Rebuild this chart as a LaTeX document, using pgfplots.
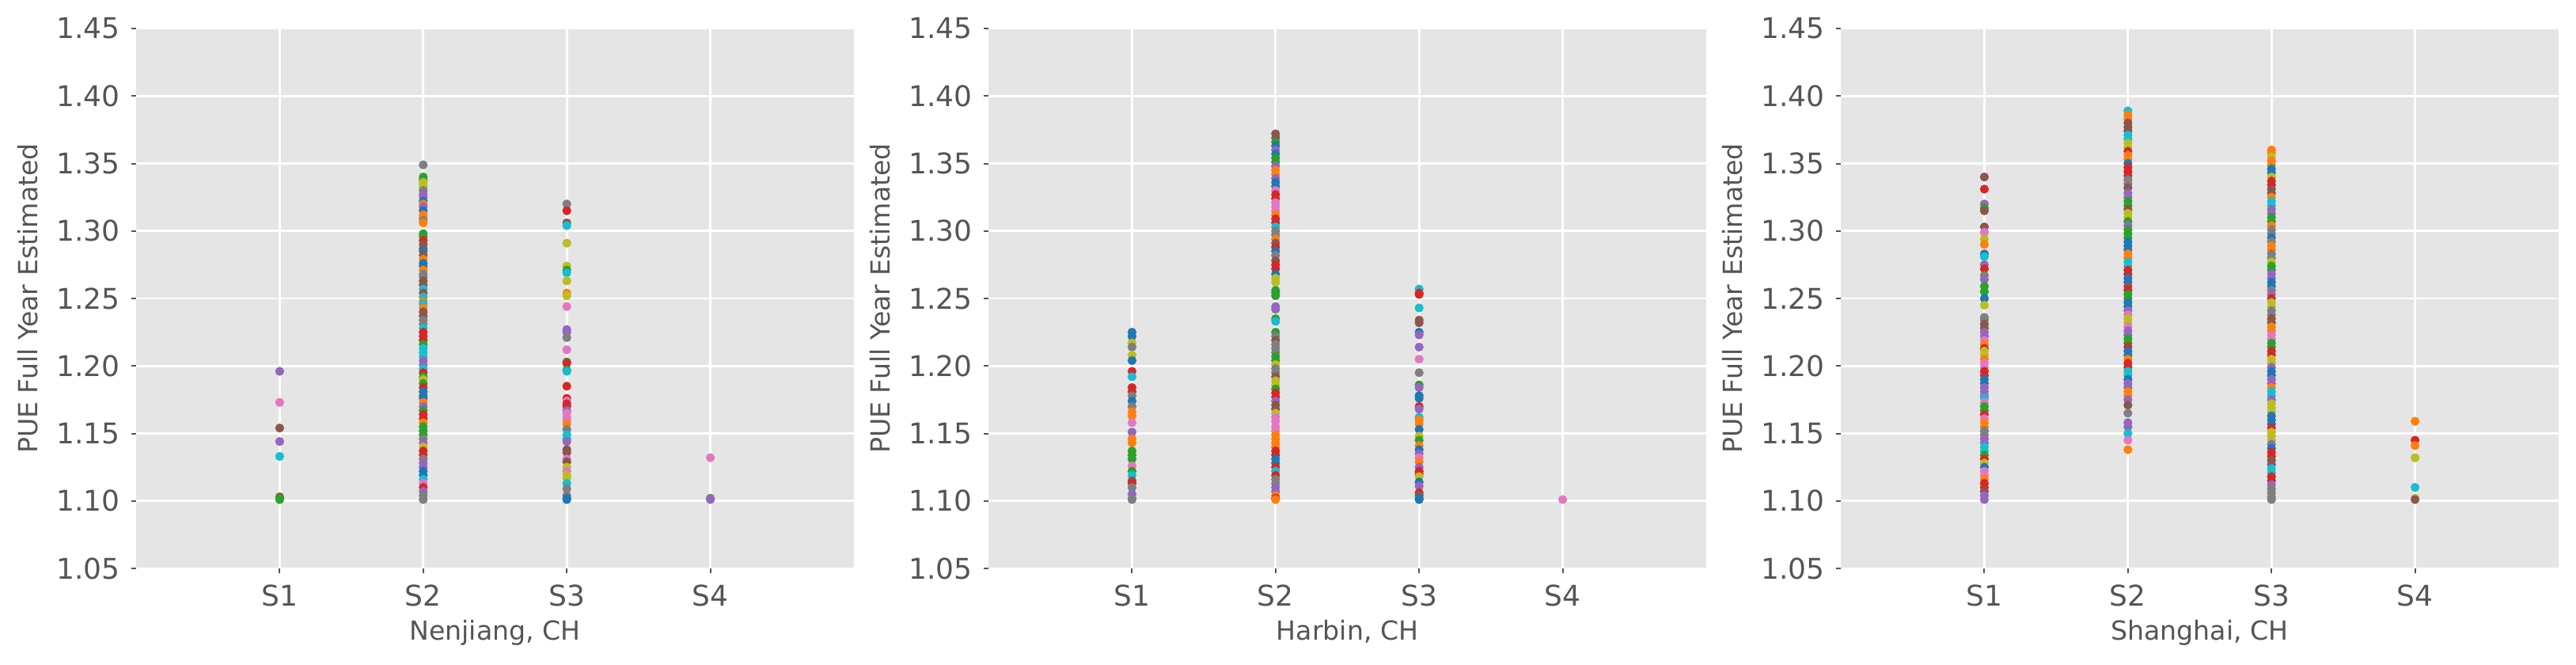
\documentclass[border=0pt]{standalone}
\usepackage{pgfplots}
\pgfplotsset{compat=1.18}
\usepackage{pgfplotstable}
\usepackage{fontspec}
\setmainfont{DejaVu Sans}
\definecolor{bggray}{HTML}{E5E5E5}
\definecolor{txtgray}{HTML}{555555}
\definecolor{ca}{HTML}{1F77B4}
\definecolor{cb}{HTML}{FF7F0E}
\definecolor{cc}{HTML}{2CA02C}
\definecolor{cd}{HTML}{D62728}
\definecolor{ce}{HTML}{9467BD}
\definecolor{cf}{HTML}{8C564B}
\definecolor{cg}{HTML}{E377C2}
\definecolor{ch}{HTML}{7F7F7F}
\definecolor{ci}{HTML}{BCBD22}
\definecolor{cj}{HTML}{17BECF}

\pgfplotstableread{
x y c
1 1.196 e
1 1.173 g
1 1.154 f
1 1.144 e
1 1.133 j
1 1.103 f
1 1.102 c
1 1.101 c
2 1.349 h
2 1.340 c
2 1.338 c
2 1.336 i
2 1.334 i
2 1.332 i
2 1.330 h
2 1.327 e
2 1.325 e
2 1.322 a
2 1.320 b
2 1.318 e
2 1.315 a
2 1.312 b
2 1.310 b
2 1.308 h
2 1.306 b
2 1.298 c
2 1.296 c
2 1.293 d
2 1.290 f
2 1.287 f
2 1.285 a
2 1.282 f
2 1.279 b
2 1.276 a
2 1.274 a
2 1.271 b
2 1.268 h
2 1.266 h
2 1.263 f
2 1.260 f
2 1.257 j
2 1.254 f
2 1.251 j
2 1.248 b
2 1.246 j
2 1.243 b
2 1.240 f
2 1.237 f
2 1.234 h
2 1.231 h
2 1.228 j
2 1.225 d
2 1.222 d
2 1.219 d
2 1.216 c
2 1.213 j
2 1.210 j
2 1.207 j
2 1.204 e
2 1.201 e
2 1.198 j
2 1.195 d
2 1.192 c
2 1.190 i
2 1.187 c
2 1.184 d
2 1.181 a
2 1.178 a
2 1.176 a
2 1.173 b
2 1.170 e
2 1.167 c
2 1.164 d
2 1.161 d
2 1.158 b
2 1.155 c
2 1.152 c
2 1.149 c
2 1.146 h
2 1.143 e
2 1.140 i
2 1.137 d
2 1.134 d
2 1.131 h
2 1.128 e
2 1.125 e
2 1.122 a
2 1.119 a
2 1.116 j
2 1.113 g
2 1.110 d
2 1.107 e
2 1.104 h
2 1.101 h
3 1.320 h
3 1.315 d
3 1.306 f
3 1.304 j
3 1.291 i
3 1.274 i
3 1.271 c
3 1.269 j
3 1.263 i
3 1.254 b
3 1.252 i
3 1.244 g
3 1.227 e
3 1.225 e
3 1.221 h
3 1.212 g
3 1.203 c
3 1.202 d
3 1.197 c
3 1.196 j
3 1.185 d
3 1.176 d
3 1.174 g
3 1.172 d
3 1.170 d
3 1.167 e
3 1.165 g
3 1.162 g
3 1.160 g
3 1.157 b
3 1.153 h
3 1.149 j
3 1.146 j
3 1.144 e
3 1.138 f
3 1.136 f
3 1.131 g
3 1.129 f
3 1.125 i
3 1.122 g
3 1.119 i
3 1.117 i
3 1.113 j
3 1.109 h
3 1.104 h
3 1.102 a
3 1.101 a
4 1.132 g
4 1.102 h
4 1.101 e
}\nenjiang

\pgfplotstableread{
x y c
1 1.225 a
1 1.222 a
1 1.217 i
1 1.214 h
1 1.208 i
1 1.204 a
1 1.196 d
1 1.192 j
1 1.184 d
1 1.181 d
1 1.178 h
1 1.174 a
1 1.170 h
1 1.166 b
1 1.163 b
1 1.158 g
1 1.151 e
1 1.146 b
1 1.143 b
1 1.137 c
1 1.134 c
1 1.131 c
1 1.126 g
1 1.122 c
1 1.119 j
1 1.115 f
1 1.113 d
1 1.110 h
1 1.105 e
1 1.102 e
1 1.101 h
2 1.372 f
2 1.369 f
2 1.366 c
2 1.363 a
2 1.360 e
2 1.357 a
2 1.354 c
2 1.351 c
2 1.348 e
2 1.345 b
2 1.342 b
2 1.339 e
2 1.336 a
2 1.333 a
2 1.330 g
2 1.327 d
2 1.324 d
2 1.321 g
2 1.318 g
2 1.315 g
2 1.312 b
2 1.309 d
2 1.306 d
2 1.303 j
2 1.300 h
2 1.297 h
2 1.294 b
2 1.291 f
2 1.288 d
2 1.285 a
2 1.282 h
2 1.278 f
2 1.275 d
2 1.272 d
2 1.268 a
2 1.265 i
2 1.262 i
2 1.256 c
2 1.254 c
2 1.252 c
2 1.244 e
2 1.242 e
2 1.235 c
2 1.233 j
2 1.225 c
2 1.222 h
2 1.219 f
2 1.216 h
2 1.213 h
2 1.210 h
2 1.207 c
2 1.204 c
2 1.201 i
2 1.198 h
2 1.195 h
2 1.192 f
2 1.189 i
2 1.186 i
2 1.183 c
2 1.180 d
2 1.177 d
2 1.174 e
2 1.171 f
2 1.168 f
2 1.165 i
2 1.162 g
2 1.159 g
2 1.155 g
2 1.152 g
2 1.149 b
2 1.146 b
2 1.143 b
2 1.140 b
2 1.137 d
2 1.134 d
2 1.131 a
2 1.128 a
2 1.125 d
2 1.122 j
2 1.119 d
2 1.116 h
2 1.113 h
2 1.110 e
2 1.107 e
2 1.104 b
2 1.102 d
2 1.101 b
3 1.257 j
3 1.254 d
3 1.253 d
3 1.243 j
3 1.234 f
3 1.232 f
3 1.225 a
3 1.223 e
3 1.214 e
3 1.205 g
3 1.195 h
3 1.186 c
3 1.184 e
3 1.178 a
3 1.176 a
3 1.170 d
3 1.168 e
3 1.162 j
3 1.160 b
3 1.157 b
3 1.153 a
3 1.148 i
3 1.145 c
3 1.141 b
3 1.138 a
3 1.135 e
3 1.132 g
3 1.129 b
3 1.125 e
3 1.122 d
3 1.120 d
3 1.118 i
3 1.114 a
3 1.111 e
3 1.106 d
3 1.104 f
3 1.102 a
3 1.101 a
4 1.101 g
}\harbin

\pgfplotstableread{
x y c
1 1.340 f
1 1.331 d
1 1.320 e
1 1.317 c
1 1.315 f
1 1.303 f
1 1.299 g
1 1.294 i
1 1.290 b
1 1.283 a
1 1.281 j
1 1.275 e
1 1.272 d
1 1.267 h
1 1.264 e
1 1.259 c
1 1.255 c
1 1.250 a
1 1.245 i
1 1.236 h
1 1.234 h
1 1.231 f
1 1.228 f
1 1.225 e
1 1.222 e
1 1.219 g
1 1.216 b
1 1.213 d
1 1.211 i
1 1.208 i
1 1.205 b
1 1.202 g
1 1.199 g
1 1.196 d
1 1.193 d
1 1.190 a
1 1.187 a
1 1.184 e
1 1.181 e
1 1.178 e
1 1.176 j
1 1.173 g
1 1.170 c
1 1.167 c
1 1.164 d
1 1.161 g
1 1.158 b
1 1.155 b
1 1.152 h
1 1.149 h
1 1.146 e
1 1.143 e
1 1.140 j
1 1.137 j
1 1.134 c
1 1.131 d
1 1.128 i
1 1.125 a
1 1.122 g
1 1.119 g
1 1.116 b
1 1.113 d
1 1.110 d
1 1.107 f
1 1.104 e
1 1.101 e
2 1.389 j
2 1.386 b
2 1.383 b
2 1.380 f
2 1.377 f
2 1.374 f
2 1.371 j
2 1.368 j
2 1.365 i
2 1.362 i
2 1.359 d
2 1.356 b
2 1.353 b
2 1.350 a
2 1.347 d
2 1.344 d
2 1.341 d
2 1.338 h
2 1.335 h
2 1.332 f
2 1.328 e
2 1.325 e
2 1.322 c
2 1.319 c
2 1.316 f
2 1.313 i
2 1.310 i
2 1.307 c
2 1.304 e
2 1.301 c
2 1.298 c
2 1.295 c
2 1.292 a
2 1.289 a
2 1.286 a
2 1.283 b
2 1.280 b
2 1.277 j
2 1.274 j
2 1.271 d
2 1.268 d
2 1.265 a
2 1.262 a
2 1.259 f
2 1.256 d
2 1.253 c
2 1.250 c
2 1.247 a
2 1.244 a
2 1.241 e
2 1.238 g
2 1.235 i
2 1.232 i
2 1.229 g
2 1.226 e
2 1.223 e
2 1.220 c
2 1.217 c
2 1.214 d
2 1.211 a
2 1.208 a
2 1.205 b
2 1.202 d
2 1.199 d
2 1.196 j
2 1.193 j
2 1.190 a
2 1.187 e
2 1.184 e
2 1.181 b
2 1.178 b
2 1.175 e
2 1.171 f
2 1.165 h
2 1.158 e
2 1.155 e
2 1.150 j
2 1.145 g
2 1.138 b
3 1.360 b
3 1.358 b
3 1.355 i
3 1.352 b
3 1.349 b
3 1.346 a
3 1.343 a
3 1.340 i
3 1.337 d
3 1.334 d
3 1.331 f
3 1.328 f
3 1.325 b
3 1.322 j
3 1.319 j
3 1.316 e
3 1.313 e
3 1.310 c
3 1.307 c
3 1.304 b
3 1.301 h
3 1.298 h
3 1.295 a
3 1.292 h
3 1.289 b
3 1.286 b
3 1.283 h
3 1.280 h
3 1.277 i
3 1.274 c
3 1.271 c
3 1.268 e
3 1.265 e
3 1.262 a
3 1.259 a
3 1.256 h
3 1.253 e
3 1.250 d
3 1.247 i
3 1.244 i
3 1.241 h
3 1.238 h
3 1.235 f
3 1.232 f
3 1.229 b
3 1.226 b
3 1.223 g
3 1.220 g
3 1.217 c
3 1.214 c
3 1.211 d
3 1.208 d
3 1.205 i
3 1.202 i
3 1.199 e
3 1.196 a
3 1.193 a
3 1.190 e
3 1.187 e
3 1.184 b
3 1.181 j
3 1.178 j
3 1.175 e
3 1.172 i
3 1.169 i
3 1.166 i
3 1.163 a
3 1.160 a
3 1.157 a
3 1.154 d
3 1.151 i
3 1.148 i
3 1.145 i
3 1.142 e
3 1.139 a
3 1.136 d
3 1.133 d
3 1.130 f
3 1.127 f
3 1.124 j
3 1.121 j
3 1.118 d
3 1.115 d
3 1.112 e
3 1.109 h
3 1.106 h
3 1.103 h
3 1.101 h
4 1.159 b
4 1.145 d
4 1.141 b
4 1.132 i
4 1.110 j
4 1.102 i
4 1.101 f
}\shanghai

\pgfplotsset{
  panel/.style={
    scale only axis,
    width=226.75pt, height=170.5pt,
    anchor=south west,
    xmin=0, xmax=5, ymin=1.05, ymax=1.45,
    xtick={1,2,3,4}, xticklabels={S1,S2,S3,S4},
    ytick={1.05,1.10,1.15,1.20,1.25,1.30,1.35,1.40,1.45},
    yticklabel style={/pgf/number format/.cd, fixed, fixed zerofill, precision=2},
    /pgf/number format/assume math mode=true,
    axis background/.style={fill=bggray},
    axis line style={draw=none},
    grid=major,
    major grid style={white, line width=0.7pt},
    tick align=outside,
    xtick pos=bottom, ytick pos=left,
    major tick length=1.6pt,
    tick style={txtgray, line width=0.5pt},
    tick label style={font=\fontsize{9}{10}\selectfont, text=txtgray},
    label style={font=\fontsize{8.3}{9.5}\selectfont, text=txtgray},
    xlabel shift=-2.5pt,
    ylabel shift=-1pt,
    ylabel={PUE Full Year Estimated},
    scatter/classes={
      a={mark=*,ca,draw=ca,fill=ca},
      b={mark=*,cb,draw=cb,fill=cb},
      c={mark=*,cc,draw=cc,fill=cc},
      d={mark=*,cd,draw=cd,fill=cd},
      e={mark=*,ce,draw=ce,fill=ce},
      f={mark=*,cf,draw=cf,fill=cf},
      g={mark=*,cg,draw=cg,fill=cg},
      h={mark=*,ch,draw=ch,fill=ch},
      i={mark=*,ci,draw=ci,fill=ci},
      j={mark=*,cj,draw=cj,fill=cj}},
  },
  dots/.style={scatter, only marks, mark size=1.2pt, scatter src=explicit symbolic},
}

\begin{document}
\begin{tikzpicture}
\path[use as bounding box] (0,0) rectangle (813.75pt,209.75pt);
\begin{axis}[panel, at={(43pt,30.25pt)}, xlabel={Nenjiang, CH}]
\addplot[dots] table[x=x, y=y, meta=c] {\nenjiang};
\end{axis}
\begin{axis}[panel, at={(312.25pt,30.25pt)}, xlabel={Harbin, CH}]
\addplot[dots] table[x=x, y=y, meta=c] {\harbin};
\end{axis}
\begin{axis}[panel, at={(581.5pt,30.25pt)}, xlabel={Shanghai, CH}]
\addplot[dots] table[x=x, y=y, meta=c] {\shanghai};
\end{axis}
\end{tikzpicture}
\end{document}
